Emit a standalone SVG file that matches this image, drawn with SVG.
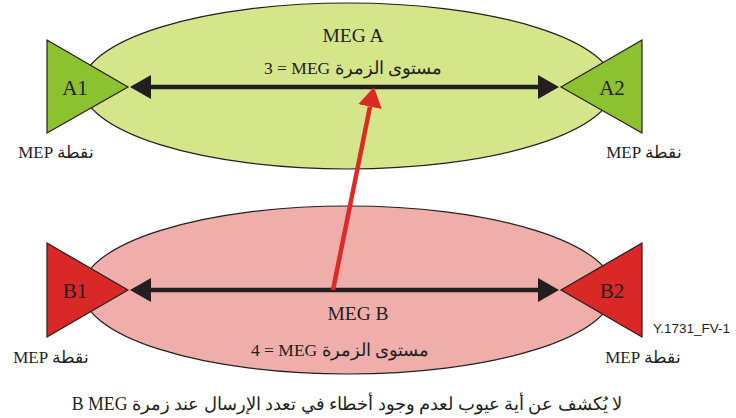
<svg xmlns="http://www.w3.org/2000/svg" width="736" height="418" viewBox="0 0 736 418">
<style>
.ell{stroke:#231f20;stroke-width:1.2}
.megA{fill:#d5e58a}
.megB{fill:#f0aeaa}
.triA{fill:#8cc12f;stroke:#231f20;stroke-width:1.2}
.triB{fill:#d92826;stroke:#231f20;stroke-width:1.2}
.t{font-family:"Liberation Serif","DejaVu Serif",serif;fill:#231f20}
.lbl{font-size:21px;text-anchor:middle}
.ttl{font-size:19.5px;text-anchor:middle}
.mid{font-size:17.5px;text-anchor:middle}
.mep{font-size:17px;text-anchor:middle}
.cap{font-size:17.8px;text-anchor:middle}
.fig{font-family:"Liberation Sans",Arial,sans-serif;font-size:13.5px;fill:#231f20}
.blk{stroke:#231f20;stroke-width:4.5;fill:none}
.red{stroke:#dc2a24;stroke-width:4.5;fill:none}
</style>
<defs>
<marker id="ahB" viewBox="0 0 21 24" refX="0" refY="12" markerWidth="21" markerHeight="24" markerUnits="userSpaceOnUse" orient="auto-start-reverse">
<path d="M0,0 L21,12 L0,24 Z" fill="#231f20"/>
</marker>
<marker id="ahR" viewBox="0 0 20 24" refX="0" refY="12" markerWidth="20" markerHeight="24" markerUnits="userSpaceOnUse" orient="auto">
<path d="M0,0 L20,12 L0,24 Z" fill="#dc2a24"/>
</marker>
</defs>
<g id="megA">
<ellipse class="ell megA" cx="348" cy="86" rx="266" ry="83"/>
<text class="t ttl" x="353" y="42">MEG A</text>
<text class="t mid" x="353" y="74">3 = MEG مستوى الزمرة</text>
</g>
<g id="megB">
<ellipse class="ell megB" cx="348" cy="290" rx="266" ry="84"/>
<text class="t ttl" x="358" y="320">MEG B</text>
<text class="t mid" x="340" y="356">4 = MEG مستوى الزمرة</text>
</g>
<g id="A1">
<polygon class="triA" points="47,40 128,87 47,133"/>
<text class="t lbl" x="75" y="95">A1</text>
<text class="t mep" x="56" y="158">MEP نقطة</text>
</g>
<g id="A2">
<polygon class="triA" points="642,40 561,87 642,133"/>
<text class="t lbl" x="612" y="95">A2</text>
<text class="t mep" x="644" y="158">MEP نقطة</text>
</g>
<g id="B1">
<polygon class="triB" points="47,243 128,290 47,337"/>
<text class="t lbl" x="75" y="298">B1</text>
<text class="t mep" x="51" y="363">MEP نقطة</text>
</g>
<g id="B2">
<polygon class="triB" points="642,243 561,290 642,337"/>
<text class="t lbl" x="612" y="298">B2</text>
<text class="t mep" x="643" y="363">MEP نقطة</text>
</g>
<g id="connectors">
<line class="blk" x1="151" y1="87" x2="538" y2="87" marker-start="url(#ahB)" marker-end="url(#ahB)"/>
<line class="blk" x1="151" y1="290" x2="538" y2="290" marker-start="url(#ahB)" marker-end="url(#ahB)"/>
<line class="red" x1="333" y1="290" x2="370" y2="106.6" marker-end="url(#ahR)"/>
</g>
<text class="fig" x="653" y="333">Y.1731_FV-1</text>
<text class="t cap" x="347" y="410">B MEG لا يُكشف عن أية عيوب لعدم وجود أخطاء في تعدد الإرسال عند زمرة</text>
</svg>
